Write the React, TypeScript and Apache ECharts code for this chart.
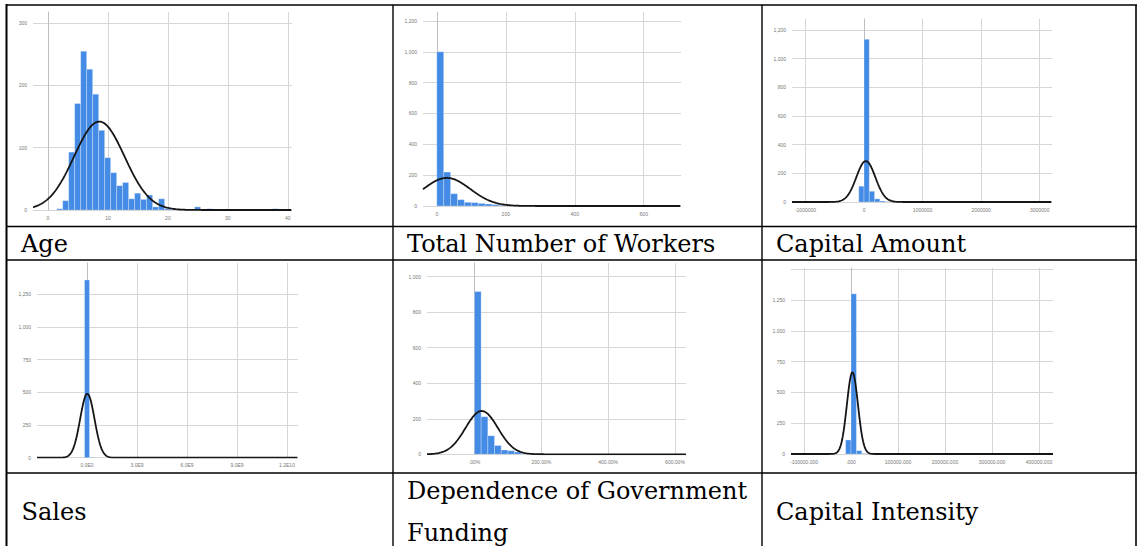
import React, { useEffect, useRef } from 'react';
import * as echarts from 'echarts';

// ---------------- data ----------------
// Age
const ageBinStart = 1.45;
const ageBinWidth = 1;
const ageCounts = [2, 15, 93, 171, 255, 226, 186, 128, 84, 60, 39, 44, 18, 27, 17, 24, 5, 18, 2, 1, 0, 1, 1, 5, 1, 2, 0, 0, 0, 0, 0, 0, 0, 0, 0, 0, 2];
const ageNormal = [8.56, 4.2, 142]; // mean, sd, peak height
const ageXTicks = [0, 10, 20, 30, 40];
const ageXLabels = ['0', '10', '20', '30', '40'];
const ageYTicks = [0, 100, 200, 300];
const ageYLabels = ['0', '100', '200', '300'];

// Total Number of Workers
const wrkBinStart = 0;
const wrkBinWidth = 20;
const wrkCounts = [1000, 220, 80, 41, 24, 22, 17, 13, 9, 4];
const wrkNormal = [29, 68, 182];
const wrkXTicks = [0, 200, 400, 600];
const wrkXLabels = ['0', '200', '400', '600'];
const wrkYTicks = [0, 200, 400, 600, 800, 1000, 1200];
const wrkYLabels = ['0', '200', '400', '600', '800', '1,000', '1,200'];

// Capital Amount
const capBinStart = -90000;
const capBinWidth = 90000;
const capCounts = [110, 1135, 75, 22, 7, 3];
const capNormal = [31000, 162000, 286];
const capXTicks = [-1000000, 0, 1000000, 2000000, 3000000];
const capXLabels = ['-1000000', '0', '1000000', '2000000', '3000000'];
const capYTicks = [0, 200, 400, 600, 800, 1000, 1200];
const capYLabels = ['0', '200', '400', '600', '800', '1,000', '1,200'];

// Sales
const salBinStart = -150000000;
const salBinWidth = 300000000;
const salCounts = [1360, 3];
const salNormal = [20000000, 430000000, 490];
const salXTicks = [0, 3e9, 6e9, 9e9, 1.2e10];
const salXLabels = ['0.0E0', '3.0E9', '6.0E9', '9.0E9', '1.2E10'];
const salYTicks = [0, 250, 500, 750, 1000, 1250];
const salYLabels = ['0', '250', '500', '750', '1,000', '1,250'];

// Dependence of Government Funding
const govBinStart = 0;
const govBinWidth = 20;
const govCounts = [916, 212, 105, 49, 24, 20, 13, 3];
const govNormal = [21.7, 48.5, 244];
const govXTicks = [0, 200, 400, 600];
const govXLabels = ['.00%', '200.00%', '400.00%', '600.00%'];
const govYTicks = [0, 200, 400, 600, 800, 1000];
const govYLabels = ['0', '200', '400', '600', '800', '1,000'];

// Capital Intensity
const intBinStart = -11500;
const intBinWidth = 11500;
const intCounts = [114, 1300, 27, 4];
const intNormal = [3000, 11750, 663];
const intXTicks = [-100000, 0, 100000, 200000, 300000, 400000];
const intXLabels = ['-100000.000', '.000', '100000.000', '200000.000', '300000.000', '400000.000'];
const intYTicks = [0, 250, 500, 750, 1000, 1250];
const intYLabels = ['0', '250', '500', '750', '1,000', '1,250'];

const cellLabels = [
  'Age',
  'Total Number of Workers',
  'Capital Amount',
  'Sales',
  'Dependence of Government',
  'Funding',
  'Capital Intensity',
];

// ---------------- layout ----------------
const BAR = '#448be5';
const GRIDLINE = '#d6d6d6';

type Panel = {
  rect: number[]; // left, top, right, bottom
  xr: number[];
  split: number;
  yMax: number;
  yInt: number;
  xTicks: number[];
  xLabels: string[];
  yTicks: number[];
  yLabels: string[];
  binStart: number;
  binWidth: number;
  counts: number[];
  normal: number[];
};

const panels: Panel[] = [
  { rect: [33, 12, 292, 210], xr: [-2.5, 40.7], split: 4, yMax: 318, yInt: 100, xTicks: ageXTicks, xLabels: ageXLabels, yTicks: ageYTicks, yLabels: ageYLabels, binStart: ageBinStart, binWidth: ageBinWidth, counts: ageCounts, normal: ageNormal },
  { rect: [423, 12, 681, 206], xr: [-40, 708], split: 4, yMax: 1258, yInt: 200, xTicks: wrkXTicks, xLabels: wrkXLabels, yTicks: wrkYTicks, yLabels: wrkYLabels, binStart: wrkBinStart, binWidth: wrkBinWidth, counts: wrkCounts, normal: wrkNormal },
  { rect: [792, 19, 1052, 202], xr: [-1230000, 3210000], split: 4, yMax: 1277, yInt: 200, xTicks: capXTicks, xLabels: capXLabels, yTicks: capYTicks, yLabels: capYLabels, binStart: capBinStart, binWidth: capBinWidth, counts: capCounts, normal: capNormal },
  { rect: [37, 263, 298, 457.7], xr: [-3.0e9, 1.266e10], split: 5, yMax: 1490, yInt: 250, xTicks: salXTicks, xLabels: salXLabels, yTicks: salYTicks, yLabels: salYLabels, binStart: salBinStart, binWidth: salBinWidth, counts: salCounts, normal: salNormal },
  { rect: [427, 263, 686, 454.3], xr: [-142, 633], split: 4, yMax: 1077, yInt: 200, xTicks: govXTicks, xLabels: govXLabels, yTicks: govYTicks, yLabels: govYLabels, binStart: govBinStart, binWidth: govBinWidth, counts: govCounts, normal: govNormal },
  { rect: [791, 268, 1053, 454], xr: [-127700, 429800], split: 5, yMax: 1510, yInt: 250, xTicks: intXTicks, xLabels: intXLabels, yTicks: intYTicks, yLabels: intYLabels, binStart: intBinStart, binWidth: intBinWidth, counts: intCounts, normal: intNormal },
];

function lookup(ticks: number[], labels: string[]) {
  return (v: number) => {
    const i = ticks.findIndex((t) => Math.abs(t - v) <= 1e-9 * Math.max(1, Math.abs(t)));
    return i >= 0 ? labels[i] : '';
  };
}

function buildOption() {
  const grid: any[] = [];
  const xAxis: any[] = [];
  const yAxis: any[] = [];
  const series: any[] = [];

  panels.forEach((p, k) => {
    const [l, t, r, b] = p.rect;
    grid.push({ left: l, top: t, width: r - l, height: b - t, containLabel: false });
    xAxis.push({
      type: 'value',
      gridIndex: k,
      min: p.xr[0],
      max: p.xr[1],
      splitNumber: p.split,
      axisLine: { show: false },
      axisTick: { show: false },
      axisLabel: {
        formatter: lookup(p.xTicks, p.xLabels),
        fontSize: 5,
        color: '#777',
        fontFamily: 'Liberation Sans',
        margin: 5,
      },
      splitLine: { show: true, showMinLine: false, showMaxLine: false, lineStyle: { color: GRIDLINE, width: 1 } },
    });
    yAxis.push({
      type: 'value',
      gridIndex: k,
      min: 0,
      max: p.yMax,
      interval: p.yInt,
      axisLine: { show: true, lineStyle: { color: '#bdbdbd', width: 1 } },
      axisTick: { show: false },
      axisLabel: {
        formatter: lookup(p.yTicks, p.yLabels),
        fontSize: 5,
        color: '#777',
        fontFamily: 'Liberation Sans',
        margin: 6,
      },
      splitLine: { show: true, showMinLine: true, showMaxLine: false, lineStyle: { color: GRIDLINE, width: 1 } },
    });

    const bins = p.counts.map((c, i) => [p.binStart + i * p.binWidth, p.binStart + (i + 1) * p.binWidth, c]);
    series.push({
      type: 'custom',
      xAxisIndex: k,
      yAxisIndex: k,
      encode: { x: [0, 1], y: 2 },
      data: bins,
      clip: true,
      renderItem: (params: any, api: any) => {
        const x0 = api.value(0);
        const x1 = api.value(1);
        const c = api.value(2);
        if (!c) return null;
        const p0 = api.coord([x0, c]);
        const p1 = api.coord([x1, 0]);
        return {
          type: 'rect',
          shape: { x: p0[0], y: p0[1], width: p1[0] - p0[0], height: p1[1] - p0[1] },
          style: { fill: BAR, stroke: 'rgba(255,255,255,0.55)', lineWidth: 0.5 },
        };
      },
    });

    const [mean, sd, peak] = p.normal;
    const n = 400;
    const curve: number[][] = [];
    for (let i = 0; i <= n; i++) {
      const x = p.xr[0] + ((p.xr[1] - p.xr[0]) * i) / n;
      const z = (x - mean) / sd;
      curve.push([x, peak * Math.exp(-0.5 * z * z)]);
    }
    series.push({
      type: 'line',
      xAxisIndex: k,
      yAxisIndex: k,
      data: curve,
      showSymbol: false,
      symbol: 'none',
      smooth: false,
      z: 5,
      lineStyle: { color: '#151515', width: 1.8 },
    });
  });

  const LINE = '#000';
  const lines = [
    // horizontal
    [6, 5, 1137, 5, 1.6],
    [6, 226.5, 1137, 226.5, 1.4],
    [6, 260, 1137, 260, 1.4],
    [6, 473, 1137, 473, 1.4],
    // vertical
    [6.5, 4, 6.5, 546, 2],
    [393, 5, 393, 546, 1.4],
    [762, 5, 762, 546, 1.4],
    [1136, 5, 1136, 546, 1.6],
  ];
  const graphic: any[] = lines.map(([x1, y1, x2, y2, w]) => ({
    type: 'line',
    silent: true,
    z: 10,
    shape: { x1, y1, x2, y2 },
    style: { stroke: LINE, lineWidth: w },
  }));

  const labelPos = [
    [21, 244],
    [407, 244],
    [776, 244],
    [21.5, 511.7],
    [407, 490.7],
    [407, 533.4],
    [776, 512.2],
  ];
  cellLabels.forEach((txt, i) => {
    graphic.push({
      type: 'text',
      silent: true,
      z: 10,
      x: labelPos[i][0],
      y: labelPos[i][1],
      style: {
        text: txt,
        fontSize: 24,
        fontFamily: 'DejaVu Serif',
        fill: '#000',
        align: 'left',
        verticalAlign: 'middle',
      },
    });
  });

  return {
    animation: false,
    backgroundColor: '#ffffff',
    grid,
    xAxis,
    yAxis,
    series,
    graphic,
  };
}

export default function App() {
  const ref = useRef<HTMLDivElement>(null);
  useEffect(() => {
    if (!ref.current) return;
    const chart = echarts.init(ref.current, undefined, { renderer: 'svg' });
    chart.setOption(buildOption() as any);
    return () => chart.dispose();
  }, []);
  return (
    <div
      ref={ref}
      style={{ position: 'absolute', left: 0, top: 0, width: 1138, height: 546, background: '#fff' }}
    />
  );
}
